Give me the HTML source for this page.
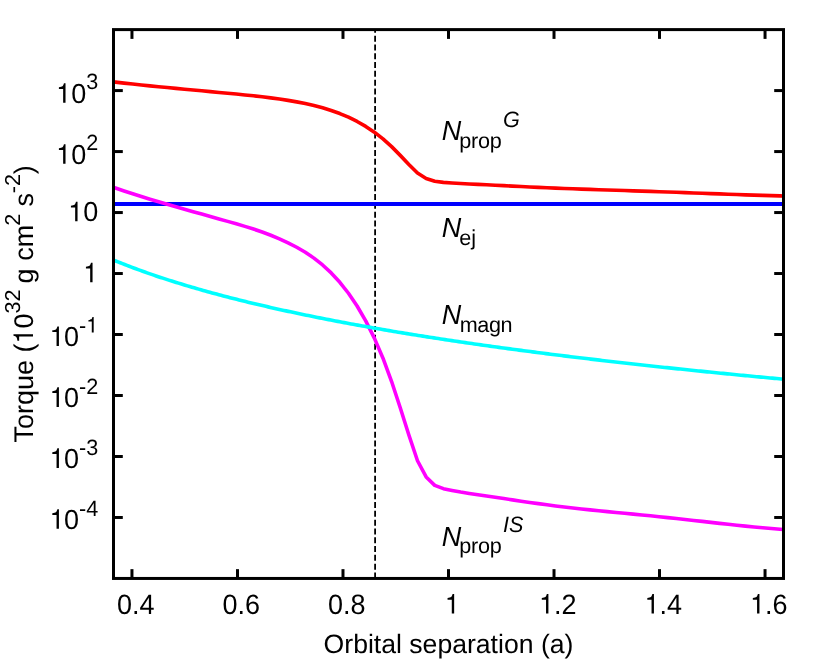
<!DOCTYPE html>
<html><head><meta charset="utf-8"><title>Torque vs orbital separation</title>
<style>html,body{margin:0;padding:0;background:#fff}svg{display:block;will-change:transform}</style></head>
<body>
<svg width="830" height="663" viewBox="0 0 830 663">
<rect width="830" height="663" fill="#fff"/>
<line x1="375.1" y1="578.45" x2="375.1" y2="29.6" stroke="#000" stroke-width="1.8" stroke-dasharray="6 2.8"/>
<g fill="none" stroke-width="3.6" stroke-linejoin="round">
<path d="M113.50,81.92 L115.45,82.15 L124.08,83.14 L132.71,84.08 L141.34,84.98 L149.97,85.86 L158.60,86.71 L167.23,87.55 L175.86,88.38 L184.49,89.20 L193.12,90.02 L201.75,90.83 L210.38,91.64 L219.01,92.45 L227.64,93.26 L236.27,94.08 L244.90,94.92 L253.53,95.82 L262.16,96.80 L270.79,97.88 L279.42,99.08 L288.05,100.40 L296.68,101.88 L305.31,103.56 L313.94,105.51 L322.57,107.78 L331.20,110.45 L339.83,113.56 L348.46,117.21 L357.09,121.47 L365.72,126.42 L374.35,132.19 L382.98,138.87 L391.61,146.64 L400.24,155.37 L408.87,164.46 L417.50,173.05 L426.13,178.45 L434.76,181.25 L443.39,182.35 L452.02,182.93 L460.65,183.48 L469.28,183.94 L477.91,184.37 L486.54,184.80 L495.17,185.23 L503.80,185.66 L512.43,186.10 L521.06,186.52 L529.69,186.94 L538.32,187.34 L546.95,187.73 L555.58,188.11 L564.21,188.46 L572.84,188.79 L581.47,189.11 L590.10,189.42 L598.73,189.71 L607.36,190.00 L615.99,190.28 L624.62,190.56 L633.25,190.84 L641.88,191.12 L650.51,191.41 L659.14,191.70 L667.77,192.00 L676.40,192.30 L685.03,192.62 L693.66,192.94 L702.29,193.27 L710.92,193.60 L719.55,193.92 L728.18,194.24 L736.81,194.55 L745.44,194.85 L754.07,195.14 L762.70,195.40 L771.33,195.65 L779.96,195.88 L783.50,195.96" stroke="#ff0000"/>
<line x1="113.5" y1="204.0" x2="783.5" y2="204.0" stroke="#0000ff" stroke-width="4.1"/>
<path d="M113.50,187.36 L115.45,188.05 L124.08,191.01 L132.71,193.83 L141.34,196.54 L149.97,199.18 L158.60,201.74 L167.23,204.26 L175.86,206.75 L184.49,209.21 L193.12,211.65 L201.75,214.09 L210.38,216.52 L219.01,218.95 L227.64,221.39 L236.27,223.84 L244.90,226.37 L253.53,229.07 L262.16,232.01 L270.79,235.25 L279.42,238.83 L288.05,242.81 L296.68,247.23 L305.31,252.27 L313.94,258.12 L322.57,264.95 L331.20,272.94 L339.83,282.29 L348.46,293.24 L357.09,306.00 L365.72,320.87 L374.35,338.16 L382.98,358.22 L391.61,381.51 L400.24,407.72 L408.87,434.97 L417.50,460.75 L426.13,476.95 L434.76,485.35 L443.39,488.65 L452.02,490.39 L460.65,492.03 L469.28,493.43 L477.91,494.71 L486.54,495.99 L495.17,497.29 L503.80,498.59 L512.43,499.89 L521.06,501.17 L529.69,502.42 L538.32,503.63 L546.95,504.80 L555.58,505.92 L564.21,506.98 L572.84,507.98 L581.47,508.93 L590.10,509.85 L598.73,510.73 L607.36,511.59 L615.99,512.44 L624.62,513.28 L633.25,514.12 L641.88,514.97 L650.51,515.83 L659.14,516.70 L667.77,517.59 L676.40,518.51 L685.03,519.46 L693.66,520.43 L702.29,521.41 L710.92,522.40 L719.55,523.37 L728.18,524.33 L736.81,525.26 L745.44,526.15 L754.07,527.01 L762.70,527.80 L771.33,528.55 L779.96,529.23 L783.50,529.48" stroke="#ff00ff"/>
<path d="M113.50,260.05 L115.74,260.97 L117.98,261.88 L120.22,262.78 L122.46,263.66 L124.70,264.54 L126.94,265.41 L129.19,266.27 L131.43,267.12 L133.67,267.96 L135.91,268.80 L138.15,269.62 L140.39,270.43 L142.63,271.24 L144.87,272.04 L147.11,272.83 L149.35,273.62 L151.59,274.39 L153.83,275.16 L156.08,275.92 L158.32,276.67 L160.56,277.42 L162.80,278.16 L165.04,278.89 L167.28,279.62 L169.52,280.34 L171.76,281.05 L174.00,281.76 L176.24,282.46 L178.48,283.15 L180.72,283.84 L182.96,284.52 L185.21,285.20 L187.45,285.87 L189.69,286.54 L191.93,287.20 L194.17,287.85 L196.41,288.50 L198.65,289.14 L200.89,289.78 L203.13,290.41 L205.37,291.04 L207.61,291.67 L209.85,292.29 L212.10,292.90 L214.34,293.51 L216.58,294.11 L218.82,294.71 L221.06,295.31 L223.30,295.90 L225.54,296.49 L227.78,297.07 L230.02,297.65 L232.26,298.22 L234.50,298.79 L236.74,299.36 L238.98,299.92 L241.23,300.48 L243.47,301.03 L245.71,301.58 L247.95,302.13 L250.19,302.67 L252.43,303.21 L254.67,303.74 L256.91,304.27 L259.15,304.80 L261.39,305.33 L263.63,305.85 L265.87,306.37 L268.12,306.88 L270.36,307.39 L272.60,307.90 L274.84,308.40 L277.08,308.91 L279.32,309.40 L281.56,309.90 L283.80,310.39 L286.04,310.88 L288.28,311.37 L290.52,311.85 L292.76,312.33 L295.01,312.81 L297.25,313.28 L299.49,313.75 L301.73,314.22 L303.97,314.69 L306.21,315.15 L308.45,315.61 L310.69,316.07 L312.93,316.53 L315.17,316.98 L317.41,317.43 L319.65,317.88 L321.89,318.32 L324.14,318.77 L326.38,319.21 L328.62,319.64 L330.86,320.08 L333.10,320.51 L335.34,320.94 L337.58,321.37 L339.82,321.80 L342.06,322.22 L344.30,322.64 L346.54,323.06 L348.78,323.48 L351.03,323.90 L353.27,324.31 L355.51,324.72 L357.75,325.13 L359.99,325.54 L362.23,325.94 L364.47,326.34 L366.71,326.74 L368.95,327.14 L371.19,327.54 L373.43,327.93 L375.67,328.32 L377.91,328.71 L380.16,329.10 L382.40,329.49 L384.64,329.88 L386.88,330.26 L389.12,330.64 L391.36,331.02 L393.60,331.40 L395.84,331.77 L398.08,332.15 L400.32,332.52 L402.56,332.89 L404.80,333.26 L407.05,333.62 L409.29,333.99 L411.53,334.35 L413.77,334.72 L416.01,335.08 L418.25,335.44 L420.49,335.79 L422.73,336.15 L424.97,336.50 L427.21,336.85 L429.45,337.21 L431.69,337.55 L433.93,337.90 L436.18,338.25 L438.42,338.59 L440.66,338.94 L442.90,339.28 L445.14,339.62 L447.38,339.96 L449.62,340.30 L451.86,340.63 L454.10,340.97 L456.34,341.30 L458.58,341.63 L460.82,341.96 L463.07,342.29 L465.31,342.62 L467.55,342.95 L469.79,343.27 L472.03,343.59 L474.27,343.92 L476.51,344.24 L478.75,344.56 L480.99,344.88 L483.23,345.19 L485.47,345.51 L487.71,345.82 L489.95,346.14 L492.20,346.45 L494.44,346.76 L496.68,347.07 L498.92,347.38 L501.16,347.69 L503.40,347.99 L505.64,348.30 L507.88,348.60 L510.12,348.90 L512.36,349.21 L514.60,349.51 L516.84,349.81 L519.09,350.10 L521.33,350.40 L523.57,350.70 L525.81,350.99 L528.05,351.29 L530.29,351.58 L532.53,351.87 L534.77,352.16 L537.01,352.45 L539.25,352.74 L541.49,353.03 L543.73,353.31 L545.97,353.60 L548.22,353.88 L550.46,354.17 L552.70,354.45 L554.94,354.73 L557.18,355.01 L559.42,355.29 L561.66,355.57 L563.90,355.84 L566.14,356.12 L568.38,356.40 L570.62,356.67 L572.86,356.94 L575.11,357.22 L577.35,357.49 L579.59,357.76 L581.83,358.03 L584.07,358.30 L586.31,358.57 L588.55,358.83 L590.79,359.10 L593.03,359.37 L595.27,359.63 L597.51,359.89 L599.75,360.16 L601.99,360.42 L604.24,360.68 L606.48,360.94 L608.72,361.20 L610.96,361.46 L613.20,361.71 L615.44,361.97 L617.68,362.23 L619.92,362.48 L622.16,362.74 L624.40,362.99 L626.64,363.24 L628.88,363.49 L631.13,363.75 L633.37,364.00 L635.61,364.25 L637.85,364.49 L640.09,364.74 L642.33,364.99 L644.57,365.24 L646.81,365.48 L649.05,365.73 L651.29,365.97 L653.53,366.21 L655.77,366.46 L658.02,366.70 L660.26,366.94 L662.50,367.18 L664.74,367.42 L666.98,367.66 L669.22,367.90 L671.46,368.14 L673.70,368.37 L675.94,368.61 L678.18,368.84 L680.42,369.08 L682.66,369.31 L684.90,369.55 L687.15,369.78 L689.39,370.01 L691.63,370.24 L693.87,370.47 L696.11,370.70 L698.35,370.93 L700.59,371.16 L702.83,371.39 L705.07,371.62 L707.31,371.84 L709.55,372.07 L711.79,372.29 L714.04,372.52 L716.28,372.74 L718.52,372.97 L720.76,373.19 L723.00,373.41 L725.24,373.63 L727.48,373.85 L729.72,374.08 L731.96,374.30 L734.20,374.51 L736.44,374.73 L738.68,374.95 L740.92,375.17 L743.17,375.39 L745.41,375.60 L747.65,375.82 L749.89,376.03 L752.13,376.25 L754.37,376.46 L756.61,376.67 L758.85,376.89 L761.09,377.10 L763.33,377.31 L765.57,377.52 L767.81,377.73 L770.06,377.94 L772.30,378.15 L774.54,378.36 L776.78,378.57 L779.02,378.78 L781.26,378.98 L783.50,379.19" stroke="#00ffff"/>
</g>
<g stroke="#000" stroke-width="3" stroke-linecap="butt" fill="none">
<line x1="131.96" y1="578.45" x2="131.96" y2="569.1500000000001"/>
<line x1="131.96" y1="29.6" x2="131.96" y2="38.900000000000006"/>
<line x1="237.48" y1="578.45" x2="237.48" y2="569.1500000000001"/>
<line x1="237.48" y1="29.6" x2="237.48" y2="38.900000000000006"/>
<line x1="342.99" y1="578.45" x2="342.99" y2="569.1500000000001"/>
<line x1="342.99" y1="29.6" x2="342.99" y2="38.900000000000006"/>
<line x1="448.50" y1="578.45" x2="448.50" y2="569.1500000000001"/>
<line x1="448.50" y1="29.6" x2="448.50" y2="38.900000000000006"/>
<line x1="554.01" y1="578.45" x2="554.01" y2="569.1500000000001"/>
<line x1="554.01" y1="29.6" x2="554.01" y2="38.900000000000006"/>
<line x1="659.52" y1="578.45" x2="659.52" y2="569.1500000000001"/>
<line x1="659.52" y1="29.6" x2="659.52" y2="38.900000000000006"/>
<line x1="765.04" y1="578.45" x2="765.04" y2="569.1500000000001"/>
<line x1="765.04" y1="29.6" x2="765.04" y2="38.900000000000006"/>
<line x1="113.5" y1="517.47" x2="122.8" y2="517.47"/>
<line x1="783.5" y1="517.47" x2="774.2" y2="517.47"/>
<line x1="113.5" y1="456.48" x2="122.8" y2="456.48"/>
<line x1="783.5" y1="456.48" x2="774.2" y2="456.48"/>
<line x1="113.5" y1="395.50" x2="122.8" y2="395.50"/>
<line x1="783.5" y1="395.50" x2="774.2" y2="395.50"/>
<line x1="113.5" y1="334.52" x2="122.8" y2="334.52"/>
<line x1="783.5" y1="334.52" x2="774.2" y2="334.52"/>
<line x1="113.5" y1="273.53" x2="122.8" y2="273.53"/>
<line x1="783.5" y1="273.53" x2="774.2" y2="273.53"/>
<line x1="113.5" y1="212.55" x2="122.8" y2="212.55"/>
<line x1="783.5" y1="212.55" x2="774.2" y2="212.55"/>
<line x1="113.5" y1="151.57" x2="122.8" y2="151.57"/>
<line x1="783.5" y1="151.57" x2="774.2" y2="151.57"/>
<line x1="113.5" y1="90.58" x2="122.8" y2="90.58"/>
<line x1="783.5" y1="90.58" x2="774.2" y2="90.58"/>
<rect x="113.5" y="29.6" width="670.0" height="548.85"/>
</g>
<g text-rendering="geometricPrecision" font-family="'Liberation Sans', sans-serif" font-size="27.0" fill="#000">
<text transform="translate(117.00,613.50) scale(1,1.04)" font-size="27.0">0.4</text>
<text transform="translate(222.51,613.50) scale(1,1.04)" font-size="27.0">0.6</text>
<text transform="translate(328.02,613.50) scale(1,1.04)" font-size="27.0">0.8</text>
<path transform="translate(444.79,613.50) scale(0.02700,-0.02754)" d="M259 0L347 0L347 709L289 709C258 598 238 583 102 566L102 503L259 503Z" fill="#000" stroke="none"/>
<path transform="translate(539.04,613.50) scale(0.02700,-0.02754)" d="M259 0L347 0L347 709L289 709C258 598 238 583 102 566L102 503L259 503Z" fill="#000" stroke="none"/>
<text transform="translate(554.06,613.50) scale(1,1.04)" font-size="27.0">.2</text>
<path transform="translate(644.56,613.50) scale(0.02700,-0.02754)" d="M259 0L347 0L347 709L289 709C258 598 238 583 102 566L102 503L259 503Z" fill="#000" stroke="none"/>
<text transform="translate(659.57,613.50) scale(1,1.04)" font-size="27.0">.4</text>
<path transform="translate(750.07,613.50) scale(0.02700,-0.02754)" d="M259 0L347 0L347 709L289 709C258 598 238 583 102 566L102 503L259 503Z" fill="#000" stroke="none"/>
<text transform="translate(765.08,613.50) scale(1,1.04)" font-size="27.0">.6</text>
<path transform="translate(49.56,528.87) scale(0.02700,-0.02754)" d="M259 0L347 0L347 709L289 709C258 598 238 583 102 566L102 503L259 503Z" fill="#000" stroke="none"/>
<text transform="translate(63.98,528.87) scale(1,1.025)" font-size="27.0">0</text>
<text transform="translate(78.99,515.57) scale(1,1.025)" font-size="21.6">-4</text>
<path transform="translate(49.56,467.88) scale(0.02700,-0.02754)" d="M259 0L347 0L347 709L289 709C258 598 238 583 102 566L102 503L259 503Z" fill="#000" stroke="none"/>
<text transform="translate(63.98,467.88) scale(1,1.025)" font-size="27.0">0</text>
<text transform="translate(78.99,454.58) scale(1,1.025)" font-size="21.6">-3</text>
<path transform="translate(49.56,406.90) scale(0.02700,-0.02754)" d="M259 0L347 0L347 709L289 709C258 598 238 583 102 566L102 503L259 503Z" fill="#000" stroke="none"/>
<text transform="translate(63.98,406.90) scale(1,1.025)" font-size="27.0">0</text>
<text transform="translate(78.99,393.60) scale(1,1.025)" font-size="21.6">-2</text>
<path transform="translate(49.56,345.92) scale(0.02700,-0.02754)" d="M259 0L347 0L347 709L289 709C258 598 238 583 102 566L102 503L259 503Z" fill="#000" stroke="none"/>
<text transform="translate(63.98,345.92) scale(1,1.025)" font-size="27.0">0</text>
<text transform="translate(78.99,332.62) scale(1,1.025)" font-size="21.6">-</text>
<path transform="translate(86.19,332.62) scale(0.02160,-0.02203)" d="M259 0L347 0L347 709L289 709C258 598 238 583 102 566L102 503L259 503Z" fill="#000" stroke="none"/>
<path transform="translate(83.18,282.23) scale(0.02700,-0.02754)" d="M259 0L347 0L347 709L289 709C258 598 238 583 102 566L102 503L259 503Z" fill="#000" stroke="none"/>
<path transform="translate(68.17,221.25) scale(0.02700,-0.02754)" d="M259 0L347 0L347 709L289 709C258 598 238 583 102 566L102 503L259 503Z" fill="#000" stroke="none"/>
<text transform="translate(83.18,221.25) scale(1,1.025)" font-size="27.0">0</text>
<path transform="translate(56.15,163.77) scale(0.02700,-0.02754)" d="M259 0L347 0L347 709L289 709C258 598 238 583 102 566L102 503L259 503Z" fill="#000" stroke="none"/>
<text transform="translate(71.17,163.77) scale(1,1.025)" font-size="27.0">0</text>
<text transform="translate(86.19,150.47) scale(1,1.025)" font-size="21.6">2</text>
<path transform="translate(56.15,102.78) scale(0.02700,-0.02754)" d="M259 0L347 0L347 709L289 709C258 598 238 583 102 566L102 503L259 503Z" fill="#000" stroke="none"/>
<text transform="translate(71.17,102.78) scale(1,1.025)" font-size="27.0">0</text>
<text transform="translate(86.19,89.48) scale(1,1.025)" font-size="21.6">3</text>
<text x="448.5" y="653.4" text-anchor="middle" font-size="26.6">Orbital separation (a)</text>
<text transform="translate(33.00,442.60) rotate(-90)" font-size="27.0">Torque (</text>
<path transform="translate(33.00,343.55) rotate(-90) scale(0.02700,-0.02754)" d="M259 0L347 0L347 709L289 709C258 598 238 583 102 566L102 503L259 503Z" fill="#000" stroke="none"/>
<text transform="translate(33.00,328.54) rotate(-90)" font-size="27.0">0</text>
<text transform="translate(19.70,313.52) rotate(-90)" font-size="21.6">32</text>
<text transform="translate(33.00,283.39) rotate(-90)" font-size="27.0">g cm</text>
<text transform="translate(19.70,225.68) rotate(-90)" font-size="21.6">2</text>
<text transform="translate(33.00,206.57) rotate(-90)" font-size="27.0">s</text>
<text transform="translate(19.70,193.27) rotate(-90)" font-size="21.6">-2</text>
<text transform="translate(33.00,174.26) rotate(-90)" font-size="27.0">)</text>
<text transform="translate(441.80,139.90) scale(1,1.025)" font-size="27.0" font-style="italic">N</text>
<text x="459.20" y="147.60" font-size="21.6" letter-spacing="-0.2">prop</text>
<text transform="translate(502.93,126.60) scale(1,1.025)" font-size="21.6" font-style="italic">G</text>
<text transform="translate(441.80,237.20) scale(1,1.025)" font-size="27.0" font-style="italic">N</text>
<text x="459.30" y="244.90" font-size="21.6">ej</text>
<text transform="translate(441.80,323.70) scale(1,1.025)" font-size="27.0" font-style="italic">N</text>
<text x="459.70" y="332.00" font-size="21.6" letter-spacing="-0.4">magn</text>
<text transform="translate(441.80,545.50) scale(1,1.025)" font-size="27.0" font-style="italic">N</text>
<text x="459.20" y="553.20" font-size="21.6" letter-spacing="-0.2">prop</text>
<text transform="translate(502.93,532.20) scale(1,1.025)" font-size="21.6" font-style="italic">IS</text>
</g>
</svg>
</body></html>
